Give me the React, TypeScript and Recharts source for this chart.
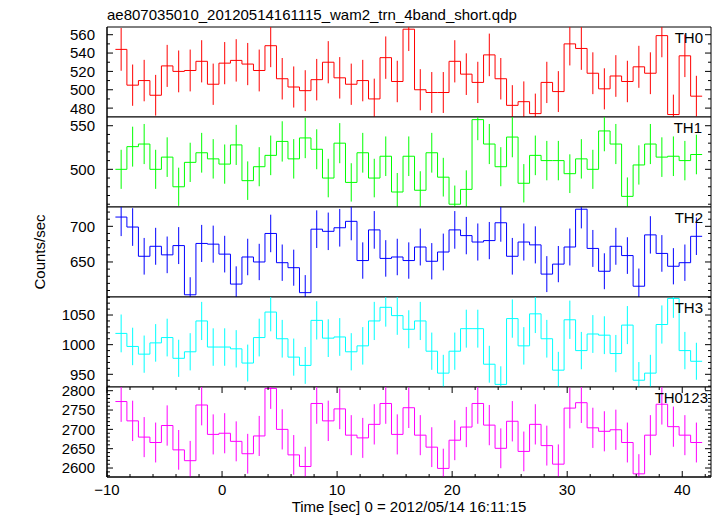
import React from "react";
import { ComposedChart, Line, XAxis, YAxis, ErrorBar, ReferenceArea } from "recharts";

// 1 s bins, centre of the first bin
const T_FIRST = -8.77;
const X_DOMAIN: [number, number] = [-10, 42.5];
const X_TICKS = [-10, -8, -6, -4, -2, 0, 2, 4, 6, 8, 10, 12, 14, 16, 18, 20, 22, 24, 26, 28, 30, 32, 34, 36, 38, 40, 42];
const X_LABELS = [-10, 0, 10, 20, 30, 40];

const TH0 = [544, 505, 510, 494, 526, 520, 521, 531, 506, 529, 532, 528, 521, 548, 512, 503, 499, 511, 530, 513, 506, 510, 490, 535, 509, 566, 500, 497, 497, 531, 517, 508, 538, 512, 483, 487, 474, 508, 498, 550, 545, 518, 501, 515, 509, 525, 518, 559, 473, 537, 493];
const TH0_ERR = [23.3, 22.5, 22.6, 22.2, 22.9, 22.8, 22.8, 23.0, 22.5, 23.0, 23.1, 23.0, 22.8, 23.4, 22.6, 22.4, 22.3, 22.6, 23.0, 22.6, 22.5, 22.6, 22.1, 23.1, 22.6, 23.8, 22.4, 22.3, 22.3, 23.0, 22.7, 22.5, 23.2, 22.6, 22.0, 22.1, 21.8, 22.5, 22.3, 23.5, 23.3, 22.8, 22.4, 22.7, 22.6, 22.9, 22.8, 23.6, 21.7, 23.2, 22.2];

const TH1 = [500, 526, 529, 500, 514, 480, 508, 519, 512, 506, 528, 487, 503, 516, 532, 512, 536, 523, 490, 530, 485, 519, 490, 515, 474, 515, 476, 519, 491, 460, 477, 557, 529, 503, 537, 484, 516, 510, 510, 495, 512, 500, 544, 529, 469, 505, 529, 514, 515, 510, 517];
const TH1_ERR = [22.4, 22.9, 23.0, 22.4, 22.7, 21.9, 22.5, 22.8, 22.6, 22.5, 23.0, 22.1, 22.4, 22.7, 23.1, 22.6, 23.2, 22.9, 22.1, 23.0, 22.0, 22.8, 22.1, 22.7, 21.8, 22.7, 21.8, 22.8, 22.2, 21.4, 21.8, 23.6, 23.0, 22.4, 23.2, 22.0, 22.7, 22.6, 22.6, 22.2, 22.6, 22.4, 23.3, 23.0, 21.7, 22.5, 23.0, 22.7, 22.7, 22.6, 22.7];

const TH2 = [713, 699, 658, 672, 660, 673, 604, 676, 675, 661, 619, 657, 650, 690, 649, 642, 607, 696, 693, 698, 707, 652, 695, 655, 657, 652, 671, 651, 664, 695, 687, 678, 680, 705, 658, 678, 674, 633, 647, 671, 724, 669, 637, 672, 659, 616, 688, 662, 644, 649, 686];
const TH2_ERR = [26.7, 26.4, 25.7, 25.9, 25.7, 25.9, 24.6, 26.0, 26.0, 25.7, 24.9, 25.6, 25.5, 26.3, 25.5, 25.3, 24.6, 26.4, 26.3, 26.4, 26.6, 25.5, 26.4, 25.6, 25.6, 25.5, 25.9, 25.5, 25.8, 26.4, 26.2, 26.0, 26.1, 26.6, 25.7, 26.0, 26.0, 25.2, 25.4, 25.9, 26.9, 25.9, 25.2, 25.9, 25.7, 24.8, 26.2, 25.7, 25.4, 25.5, 26.2];

const TH3 = [1019, 997, 984, 1003, 1012, 977, 988, 1040, 996, 996, 993, 969, 1012, 1055, 1010, 979, 965, 1041, 1011, 1013, 988, 998, 1040, 1063, 1049, 1026, 1040, 989, 952, 989, 1027, 1027, 967, 933, 1044, 998, 1052, 1010, 957, 1042, 990, 1018, 1016, 985, 1033, 940, 952, 1034, 1078, 990, 972];
const TH3_ERR = [31.9, 31.6, 31.4, 31.7, 31.8, 31.3, 31.4, 32.2, 31.6, 31.6, 31.5, 31.1, 31.8, 32.5, 31.8, 31.3, 31.1, 32.3, 31.8, 31.8, 31.4, 31.6, 32.2, 32.6, 32.4, 32.0, 32.2, 31.4, 30.9, 31.4, 32.0, 32.0, 31.1, 30.5, 32.3, 31.6, 32.4, 31.8, 30.9, 32.3, 31.5, 31.9, 31.9, 31.4, 32.1, 30.7, 30.9, 32.2, 32.8, 31.5, 31.2];

const TH0123 = [2772, 2722, 2680, 2666, 2710, 2647, 2619, 2763, 2687, 2690, 2669, 2637, 2683, 2806, 2700, 2634, 2604, 2767, 2722, 2753, 2685, 2678, 2713, 2767, 2687, 2756, 2685, 2654, 2599, 2672, 2706, 2767, 2711, 2651, 2721, 2643, 2713, 2658, 2610, 2755, 2769, 2704, 2695, 2699, 2666, 2585, 2685, 2765, 2707, 2685, 2666];
const TH0123_ERR = [52.6, 52.2, 51.8, 51.6, 52.1, 51.4, 51.2, 52.6, 51.8, 51.9, 51.7, 51.4, 51.8, 53.0, 52.0, 51.3, 51.0, 52.6, 52.2, 52.5, 51.8, 51.7, 52.1, 52.6, 51.8, 52.5, 51.8, 51.5, 51.0, 51.7, 52.0, 52.6, 52.1, 51.5, 52.2, 51.4, 52.1, 51.6, 51.1, 52.5, 52.6, 52.0, 51.9, 52.0, 51.6, 50.8, 51.8, 52.6, 52.0, 51.8, 51.6];

const TH0_TICKS = [480, 490, 500, 510, 520, 530, 540, 550, 560];
const TH0_LABELS = [480, 500, 520, 540, 560];
const TH1_TICKS = [460, 470, 480, 490, 500, 510, 520, 530, 540, 550];
const TH1_LABELS = [500, 550];
const TH2_TICKS = [610, 620, 630, 640, 650, 660, 670, 680, 690, 700, 710, 720];
const TH2_LABELS = [650, 700];
const TH3_TICKS = [930, 940, 950, 960, 970, 980, 990, 1000, 1010, 1020, 1030, 1040, 1050, 1060, 1070, 1080];
const TH3_LABELS = [950, 1000, 1050];
const TH0123_TICKS = [2580, 2590, 2600, 2610, 2620, 2630, 2640, 2650, 2660, 2670, 2680, 2690, 2700, 2710, 2720, 2730, 2740, 2750, 2760, 2770, 2780, 2790, 2800];
const TH0123_LABELS = [2600, 2650, 2700, 2750, 2800];

const FONT = "'Liberation Sans', Arial, Helvetica, sans-serif";
const W = 717;
const LEFT = 107;
const RIGHT = 711;
const TOP = 27;
const PANEL_H = 90;
const PAD = 12; // room above each box so edge labels are not cut
const AXIS_H = 30; // room for the time labels under the last box

type Panel = {
  name: string;
  color: string;
  values: number[];
  errs: number[];
  domain: [number, number];
  ticks: number[];
  labels: number[];
  nameRight: number;
};

const PANELS: Panel[] = [
  { name: "TH0", color: "#ff0000", values: TH0, errs: TH0_ERR, domain: [470.3, 568.4], ticks: TH0_TICKS, labels: TH0_LABELS, nameRight: 703 },
  { name: "TH1", color: "#00ff00", values: TH1, errs: TH1_ERR, domain: [456.8, 560], ticks: TH1_TICKS, labels: TH1_LABELS, nameRight: 702 },
  { name: "TH2", color: "#0000ff", values: TH2, errs: TH2_ERR, domain: [600.9, 727.1], ticks: TH2_TICKS, labels: TH2_LABELS, nameRight: 703 },
  { name: "TH3", color: "#00ffff", values: TH3, errs: TH3_ERR, domain: [928.6, 1080.4], ticks: TH3_TICKS, labels: TH3_LABELS, nameRight: 703 },
  { name: "TH0123", color: "#ff00ff", values: TH0123, errs: TH0123_ERR, domain: [2576.8, 2809.6], ticks: TH0123_TICKS, labels: TH0123_LABELS, nameRight: 708 },
];

function stepData(values: number[]) {
  const pts = values.map((v, i) => ({ t: T_FIRST - 0.5 + i, v }));
  pts.push({ t: T_FIRST + values.length - 0.5, v: values[values.length - 1] });
  return pts;
}

// error bars stop at the frame, as in the original plot
function barData(values: number[], errs: number[], domain: [number, number]) {
  return values.map((v, i) => ({
    t: T_FIRST + i,
    v,
    e: [Math.min(errs[i], v - domain[0]), Math.min(errs[i], domain[1] - v)],
  }));
}

// ticks point inwards on all four sides of the box, like qdp/pgplot
function XTick(props: any) {
  const { x, payload, showLabel, axisY } = props;
  const major = X_LABELS.includes(payload.value);
  const len = major ? 6 : 3;
  const top = axisY - PANEL_H;
  return (
    <g>
      <line x1={x} x2={x} y1={axisY} y2={axisY - len} stroke="#000" />
      <line x1={x} x2={x} y1={top} y2={top + len} stroke="#000" />
      {showLabel && major && (
        <text x={x} y={axisY + 18} textAnchor="middle" fontSize={15} fontFamily={FONT} fill="#000">
          {payload.value < 0 ? `\u2212${-payload.value}` : payload.value}
        </text>
      )}
    </g>
  );
}

function YTick(props: any) {
  const { x, y, payload, labels } = props;
  const major = labels.includes(payload.value);
  const len = major ? 6 : 3;
  return (
    <g>
      <line x1={x} x2={x + len} y1={y} y2={y} stroke="#000" />
      <line x1={RIGHT} x2={RIGHT - len} y1={y} y2={y} stroke="#000" />
      {major && (
        <text x={x - 12} y={y} dy="0.36em" textAnchor="end" fontSize={15} fontFamily={FONT} fill="#000">
          {payload.value}
        </text>
      )}
    </g>
  );
}

function PanelChart({ p, index, last }: { p: Panel; index: number; last: boolean }) {
  const axisH = last ? AXIS_H : 0;
  const h = PAD + PANEL_H + axisH;
  const axisY = PAD + PANEL_H;
  return (
    <div style={{ position: "absolute", left: 0, top: TOP + index * PANEL_H - PAD }}>
      <ComposedChart width={W} height={h} margin={{ top: PAD, right: W - RIGHT, bottom: 0, left: 0 }}>
        <XAxis
          xAxisId="b"
          dataKey="t"
          type="number"
          domain={X_DOMAIN}
          allowDataOverflow
          ticks={X_TICKS}
          interval={0}
          height={axisH}
          tickSize={0}
          tickMargin={0}
          tickLine={false}
          axisLine={{ stroke: "#000" }}
          tick={(tp: any) => <XTick {...tp} showLabel={last} axisY={axisY} />}
        />
        <YAxis
          yAxisId="l"
          type="number"
          domain={p.domain}
          allowDataOverflow
          ticks={p.ticks}
          interval={0}
          width={LEFT}
          tickSize={0}
          tickMargin={0}
          tickLine={false}
          axisLine={{ stroke: "#000" }}
          tick={(tp: any) => <YTick {...tp} labels={p.labels} />}
        />
        <ReferenceArea
          xAxisId="b"
          yAxisId="l"
          x1={X_DOMAIN[0]}
          x2={X_DOMAIN[1]}
          y1={p.domain[0]}
          y2={p.domain[1]}
          fill="none"
          stroke="#000"
          ifOverflow="visible"
        />
        <Line
          xAxisId="b"
          yAxisId="l"
          data={stepData(p.values)}
          dataKey="v"
          type="stepAfter"
          stroke={p.color}
          strokeWidth={1}
          dot={false}
          activeDot={false}
          isAnimationActive={false}
        />
        <Line
          xAxisId="b"
          yAxisId="l"
          data={barData(p.values, p.errs, p.domain)}
          dataKey="v"
          stroke="none"
          dot={false}
          activeDot={false}
          isAnimationActive={false}
        >
          <ErrorBar dataKey="e" width={0} stroke={p.color} strokeWidth={1} direction="y" isAnimationActive={false} />
        </Line>
      </ComposedChart>
    </div>
  );
}

export default function App() {
  return (
    <div style={{ position: "absolute", left: 0, top: 0, width: W, height: 516, background: "#fff", fontFamily: FONT }}>
      {PANELS.map((p, i) => (
        <PanelChart key={p.name} p={p} index={i} last={i === PANELS.length - 1} />
      ))}
      <svg width={W} height={516} style={{ position: "absolute", left: 0, top: 0, pointerEvents: "none" }}>
        <text x={LEFT} y={20} fontSize={15} fontFamily={FONT} fill="#000">
          ae807035010_20120514161115_wam2_trn_4band_short.qdp
        </text>
        {PANELS.map((p, i) => (
          <text key={p.name} x={p.nameRight} y={TOP + i * PANEL_H + 16} textAnchor="end" fontSize={15} fontFamily={FONT} fill="#000">
            {p.name}
          </text>
        ))}
        <text x={409} y={512} textAnchor="middle" fontSize={15} fontFamily={FONT} fill="#000">
          Time [sec] 0 = 2012/05/14 16:11:15
        </text>
        <text x={45} y={252} textAnchor="middle" fontSize={15} fontFamily={FONT} fill="#000" transform="rotate(-90 45 252)">
          Counts/sec
        </text>
      </svg>
    </div>
  );
}
